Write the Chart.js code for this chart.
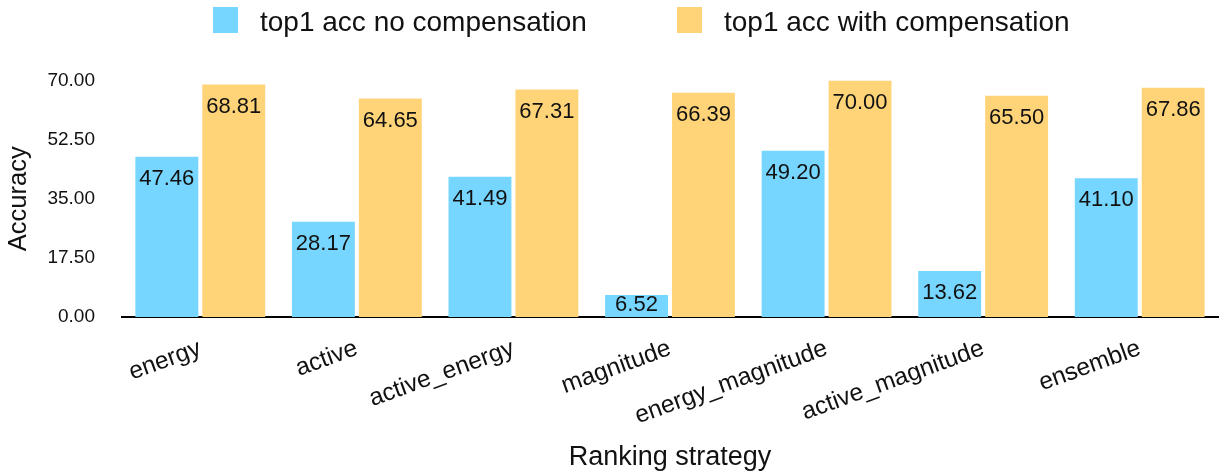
<!DOCTYPE html>
<html>
<head>
<meta charset="utf-8">
<script src="https://cdn.jsdelivr.net/npm/chart.js@4.4.1/dist/chart.umd.min.js"></script>
<style>
  html, body { margin: 0; padding: 0; background: #fff; }
  #wrap { width: 1225px; height: 474px; position: relative; }
</style>
</head>
<body>
<div id="wrap"><canvas id="c" width="1225" height="474"></canvas></div>
<script>
const categories = ["energy", "active", "active_energy", "magnitude", "energy_magnitude", "active_magnitude", "ensemble"];
const noCompensation = [47.46, 28.17, 41.49, 6.52, 49.20, 13.62, 41.10];
const withCompensation = [68.81, 64.65, 67.31, 66.39, 70.00, 65.50, 67.86];
const seriesNames = ["top1 acc no compensation", "top1 acc with compensation"];
const yTicks = [0, 17.5, 35, 52.5, 70];

const FONT = "'Liberation Sans', Arial, Helvetica, sans-serif";
const BLUE = "#76D6FF";
const ORANGE = "#FFD479";

const valueLabels = {
  id: 'valueLabels',
  afterDatasetsDraw(chart) {
    const ctx = chart.ctx;
    ctx.save();
    ctx.font = "22px " + FONT;
    ctx.fillStyle = "#111";
    ctx.textAlign = "center";
    ctx.textBaseline = "alphabetic";
    chart.data.datasets.forEach((ds, di) => {
      const meta = chart.getDatasetMeta(di);
      meta.data.forEach((bar, i) => {
        const top = bar.y, bottom = bar.base;
        const center = Math.min(top + 20, bottom - 14);
        ctx.fillText(ds.data[i].toFixed(2), bar.x, center + 8);
      });
    });
    ctx.restore();
  }
};

const customLegend = {
  id: 'customLegend',
  afterDraw(chart) {
    const ctx = chart.ctx;
    const items = [{x: 213}, {x: 677}];
    ctx.save();
    ctx.font = "28px " + FONT;
    ctx.textAlign = "left";
    ctx.textBaseline = "alphabetic";
    chart.data.datasets.forEach((ds, i) => {
      const bx = items[i].x;
      ctx.fillStyle = ds.backgroundColor;
      ctx.fillRect(bx, 7, 25, 26);
      ctx.fillStyle = "#111";
      ctx.fillText(ds.label, bx + 47, 30.5);
    });
    ctx.restore();
  }
};

new Chart(document.getElementById('c'), {
  type: 'bar',
  data: {
    labels: categories,
    datasets: [
      { label: seriesNames[0], data: noCompensation, backgroundColor: BLUE, borderWidth: 0,
        categoryPercentage: 0.855, barPercentage: 0.94 },
      { label: seriesNames[1], data: withCompensation, backgroundColor: ORANGE, borderWidth: 0,
        categoryPercentage: 0.855, barPercentage: 0.94 }
    ]
  },
  options: {
    responsive: false,
    animation: false,
    layout: { padding: { left: 0, right: 7, top: 80.5, bottom: 0 } },
    plugins: {
      legend: { display: false },
      tooltip: { enabled: false }
    },
    scales: {
      x: {
        grid: { display: true, color: 'transparent', drawTicks: false },
        border: { display: true, color: '#000', width: 2 },
        ticks: {
          autoSkip: false, maxRotation: 20, minRotation: 20, padding: 17,
          color: '#111', font: { family: FONT, size: 24.5 }
        },
        title: {
          display: true, text: 'Ranking strategy', color: '#111',
          font: { family: FONT, size: 27 }, padding: { top: 0, bottom: 0 }
        },
        afterFit(scale) { scale.height = 157; }
      },
      y: {
        min: 0, max: 70,
        afterBuildTicks(scale) { scale.ticks = yTicks.map(v => ({ value: v })); },
        grid: { display: false, drawTicks: false },
        border: { display: false },
        ticks: {
          padding: 27, color: '#111', font: { family: FONT, size: 19 },
          callback: (v) => Number(v).toFixed(2)
        },
        title: {
          display: true, text: 'Accuracy', color: '#111',
          font: { family: FONT, size: 25.5 }, padding: { top: 3.5, bottom: 0 }
        },
        afterFit(scale) { scale.width = 122; }
      }
    }
  },
  plugins: [valueLabels, customLegend]
});
</script>
</body>
</html>
